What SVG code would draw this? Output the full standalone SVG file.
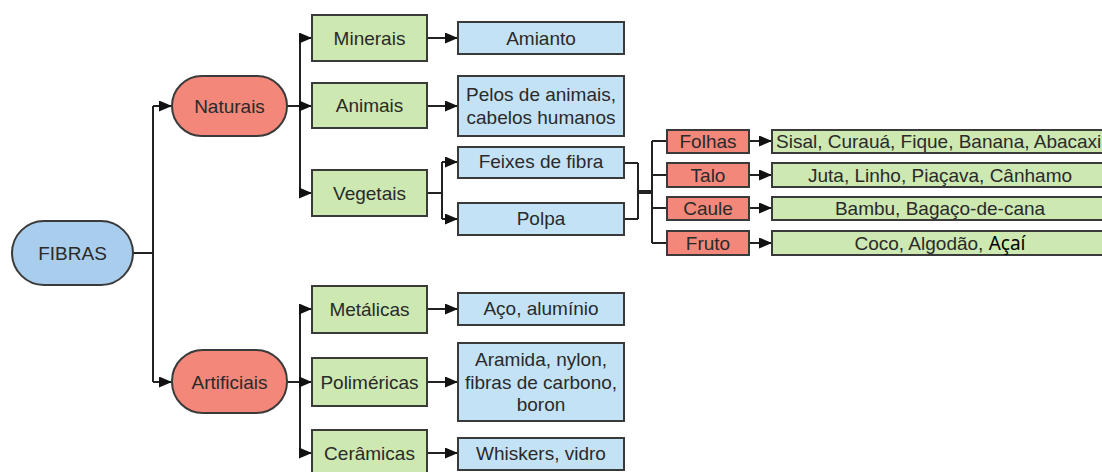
<svg xmlns="http://www.w3.org/2000/svg" width="1102" height="472" viewBox="0 0 1102 472">
<style>
.t{font-family:"Liberation Sans",Arial,sans-serif;font-size:19px;fill:#2a2a2a;text-anchor:middle;dominant-baseline:central}
.pill-b{fill:#a9cdec;stroke:#3a3a3a;stroke-width:2}
.pill-r{fill:#f3887a;stroke:#3a3a3a;stroke-width:2}
.g{fill:#cde8b1;stroke:#3a3a3a;stroke-width:2}
.b{fill:#c3e2f6;stroke:#3a3a3a;stroke-width:2}
.r{fill:#f3887a;stroke:#3a3a3a;stroke-width:2}
.c{fill:none;stroke:#222;stroke-width:2}
</style>
<defs>
<marker id="ah" markerWidth="13" markerHeight="11" refX="13" refY="5.5" orient="auto" markerUnits="userSpaceOnUse">
<path d="M0,0 L13,5.5 L0,11 Z" fill="#111"/>
</marker>
</defs>
<rect width="1102" height="472" fill="#fff"/>
<g id="connectors">
<path class="c" d="M133,253 H153 M153,106 V382"/>
<path class="c" d="M153,106 H172" marker-end="url(#ah)"/>
<path class="c" d="M153,382 H172" marker-end="url(#ah)"/>
<path class="c" d="M287,106 H300 M300,38 V193"/>
<path class="c" d="M300,38 H312" marker-end="url(#ah)"/>
<path class="c" d="M300,106 H312" marker-end="url(#ah)"/>
<path class="c" d="M300,193 H312" marker-end="url(#ah)"/>
<path class="c" d="M427,38 H458" marker-end="url(#ah)"/>
<path class="c" d="M427,106 H458" marker-end="url(#ah)"/>
<path class="c" d="M427,193 H442 M442,162 V219"/>
<path class="c" d="M442,162 H458" marker-end="url(#ah)"/>
<path class="c" d="M442,219 H458" marker-end="url(#ah)"/>
<path class="c" d="M624,163 H638 M624,219 H638 M638,163 V219"/>
<path d="M638,192 H652" stroke="#222" stroke-width="4"/>
<path class="c" d="M652,141 V243 M652,141 H667 M652,175 H667 M652,208 H667 M652,243 H667"/>
<path class="c" d="M749,141 H772" marker-end="url(#ah)"/>
<path class="c" d="M749,175 H772" marker-end="url(#ah)"/>
<path class="c" d="M749,208 H772" marker-end="url(#ah)"/>
<path class="c" d="M749,243 H772" marker-end="url(#ah)"/>
<path class="c" d="M287,382 H300 M300,309 V453"/>
<path class="c" d="M300,309 H312" marker-end="url(#ah)"/>
<path class="c" d="M300,382 H312" marker-end="url(#ah)"/>
<path class="c" d="M300,453 H312" marker-end="url(#ah)"/>
<path class="c" d="M427,309 H458" marker-end="url(#ah)"/>
<path class="c" d="M427,382 H458" marker-end="url(#ah)"/>
<path class="c" d="M427,453 H458" marker-end="url(#ah)"/>
</g>
<g id="fibras"><rect class="pill-b" x="12" y="221" width="121" height="64" rx="32"/><text class="t" x="72.5" y="253">FIBRAS</text></g>
<g id="naturais"><rect class="pill-r" x="172" y="76" width="115" height="60" rx="30"/><text class="t" x="229.5" y="106">Naturais</text></g>
<g id="artificiais"><rect class="pill-r" x="172" y="350" width="115" height="63" rx="31"/><text class="t" x="229.5" y="382">Artificiais</text></g>
<g id="minerais"><rect class="g" x="312" y="15" width="115" height="46"/><text class="t" x="369.5" y="38">Minerais</text></g>
<g id="animais"><rect class="g" x="312" y="83" width="115" height="45"/><text class="t" x="369.5" y="105.5">Animais</text></g>
<g id="vegetais"><rect class="g" x="312" y="170" width="115" height="46"/><text class="t" x="369.5" y="193">Vegetais</text></g>
<g id="metalicas"><rect class="g" x="312" y="286" width="115" height="47"/><text class="t" x="369.5" y="309.5">Metálicas</text></g>
<g id="polimericas"><rect class="g" x="312" y="358" width="115" height="48"/><text class="t" x="369.5" y="382">Poliméricas</text></g>
<g id="ceramicas"><rect class="g" x="312" y="430" width="115" height="46"/><text class="t" x="369.5" y="453">Cerâmicas</text></g>
<g id="amianto"><rect class="b" x="458" y="22" width="166" height="32"/><text class="t" x="541" y="38">Amianto</text></g>
<g id="pelos"><rect class="b" x="458" y="76" width="166" height="60"/><text class="t" x="541" y="94">Pelos de animais,</text><text class="t" x="541" y="117">cabelos humanos</text></g>
<g id="feixes"><rect class="b" x="458" y="147" width="166" height="31"/><text class="t" x="541" y="161">Feixes de fibra</text></g>
<g id="polpa"><rect class="b" x="458" y="203" width="166" height="32"/><text class="t" x="541" y="218">Polpa</text></g>
<g id="aco"><rect class="b" x="458" y="293" width="166" height="32"/><text class="t" x="541" y="308">Aço, alumínio</text></g>
<g id="aramida"><rect class="b" x="458" y="343" width="166" height="78"/><text class="t" x="541" y="359">Aramida, nylon,</text><text class="t" x="541" y="382">fibras de carbono,</text><text class="t" x="541" y="404">boron</text></g>
<g id="whiskers"><rect class="b" x="458" y="438" width="166" height="32"/><text class="t" x="541" y="453">Whiskers, vidro</text></g>
<g id="folhas"><rect class="r" x="667" y="130" width="82" height="23"/><text class="t" x="708" y="141.5">Folhas</text></g>
<g id="talo"><rect class="r" x="667" y="163" width="82" height="24"/><text class="t" x="708" y="175">Talo</text></g>
<g id="caule"><rect class="r" x="667" y="197" width="82" height="23"/><text class="t" x="708" y="208.5">Caule</text></g>
<g id="fruto"><rect class="r" x="667" y="231" width="82" height="24"/><text class="t" x="708" y="243">Fruto</text></g>
<g id="folhas-ex"><rect class="g" x="772" y="130" width="340" height="23"/><text class="t" x="776" y="141.5" style="text-anchor:start">Sisal, Curauá, Fique, Banana, Abacaxi</text></g>
<g id="talo-ex"><rect class="g" x="772" y="163" width="340" height="24"/><text class="t" x="940" y="175">Juta, Linho, Piaçava, Cânhamo</text></g>
<g id="caule-ex"><rect class="g" x="772" y="197" width="340" height="23"/><text class="t" x="940" y="208.5">Bambu, Bagaço-de-cana</text></g>
<g id="fruto-ex"><rect class="g" x="772" y="231" width="340" height="24"/><text class="t" x="940" y="243"><tspan>Coco, Algodão, </tspan><tspan style="font-family:'Noto Sans',sans-serif;fill:#000;font-size:19px">Açaí</tspan></text></g>
</svg>
